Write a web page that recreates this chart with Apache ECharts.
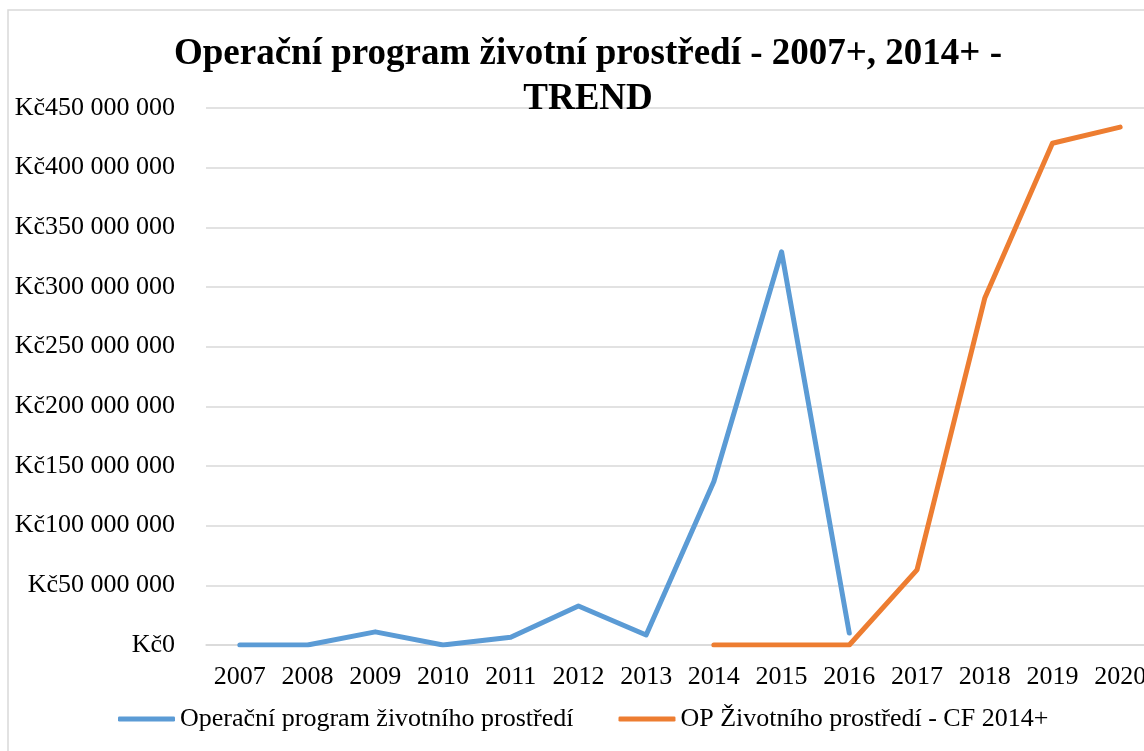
<!DOCTYPE html>
<html>
<head>
<meta charset="utf-8">
<script src="https://cdn.jsdelivr.net/npm/echarts@6/dist/echarts.min.js"></script>
<style>
  html, body { margin: 0; padding: 0; background: #ffffff; overflow: hidden; width: 1144px; height: 751px; }
  #chart { width: 1154px; height: 751px; }
</style>
</head>
<body>
<div id="chart"></div>
<script>
const titleText = 'Operační program životní prostředí - 2007+, 2014+ -\nTREND';
const years = ['2007', '2008', '2009', '2010', '2011', '2012', '2013', '2014', '2015', '2016', '2017', '2018', '2019', '2020'];
const seriesNames = ['Operační program životního prostředí', 'OP Životního prostředí - CF 2014+'];
const opzp = [0, 0, 11000000, 0, 6500000, 32700000, 8400000, 137000000, 329500000, 10000000, null, null, null, null];
const opzpCF = [null, null, null, null, null, null, null, 0, 0, 0, 63000000, 290500000, 420500000, 434000000];
const yMin = 0;
const yMax = 450000000;
const yStep = 50000000;

const FONT = "'Liberation Serif', 'Times New Roman', serif";
const chart = echarts.init(document.getElementById('chart'));

function kc(v) {
  return 'Kč' + String(v).replace(/\B(?=(\d{3})+(?!\d))/g, ' ');
}

chart.setOption({
  backgroundColor: '#ffffff',
  animation: false,
  graphic: [{
    type: 'rect',
    silent: true,
    z: -10,
    shape: { x: 8, y: 10, width: 1300, height: 900 },
    style: { fill: 'none', stroke: '#D9D9D9', lineWidth: 1.5 }
  }],
  title: {
    text: titleText,
    left: 583,
    top: 27,
    textAlign: 'center',
    textStyle: {
      fontFamily: FONT,
      fontSize: 37,
      fontWeight: 'bold',
      color: '#000000',
      lineHeight: 45
    }
  },
  legend: {
    left: 113,
    top: 701,
    icon: 'roundRect',
    itemWidth: 57,
    itemHeight: 5,
    itemGap: 45,
    textStyle: { fontFamily: FONT, fontSize: 26, color: '#000000' },
    data: seriesNames
  },
  grid: {
    left: 206,
    top: 108,
    right: 0,
    bottom: 106,
    containLabel: false
  },
  xAxis: {
    type: 'category',
    data: years,
    boundaryGap: true,
    axisLine: { show: true, lineStyle: { color: '#D9D9D9', width: 1.5 } },
    axisTick: { show: false },
    axisLabel: { fontFamily: FONT, fontSize: 26, color: '#000000', margin: 19, interval: 0 }
  },
  yAxis: {
    type: 'value',
    min: yMin,
    max: yMax,
    interval: yStep,
    axisLine: { show: false },
    axisTick: { show: false },
    splitLine: { lineStyle: { color: '#D9D9D9', width: 1.5 } },
    axisLabel: {
      fontFamily: FONT,
      fontSize: 26,
      color: '#000000',
      margin: 31,
      formatter: kc
    }
  },
  series: [
    {
      name: seriesNames[0],
      type: 'line',
      data: opzp,
      showSymbol: false,
      symbol: 'none',
      connectNulls: false,
      color: '#5B9BD5',
      lineStyle: { color: '#5B9BD5', width: 5, cap: 'round', join: 'round' }
    },
    {
      name: seriesNames[1],
      type: 'line',
      data: opzpCF,
      showSymbol: false,
      symbol: 'none',
      connectNulls: false,
      color: '#ED7D31',
      lineStyle: { color: '#ED7D31', width: 5, cap: 'round', join: 'round' }
    }
  ]
});
</script>
</body>
</html>
